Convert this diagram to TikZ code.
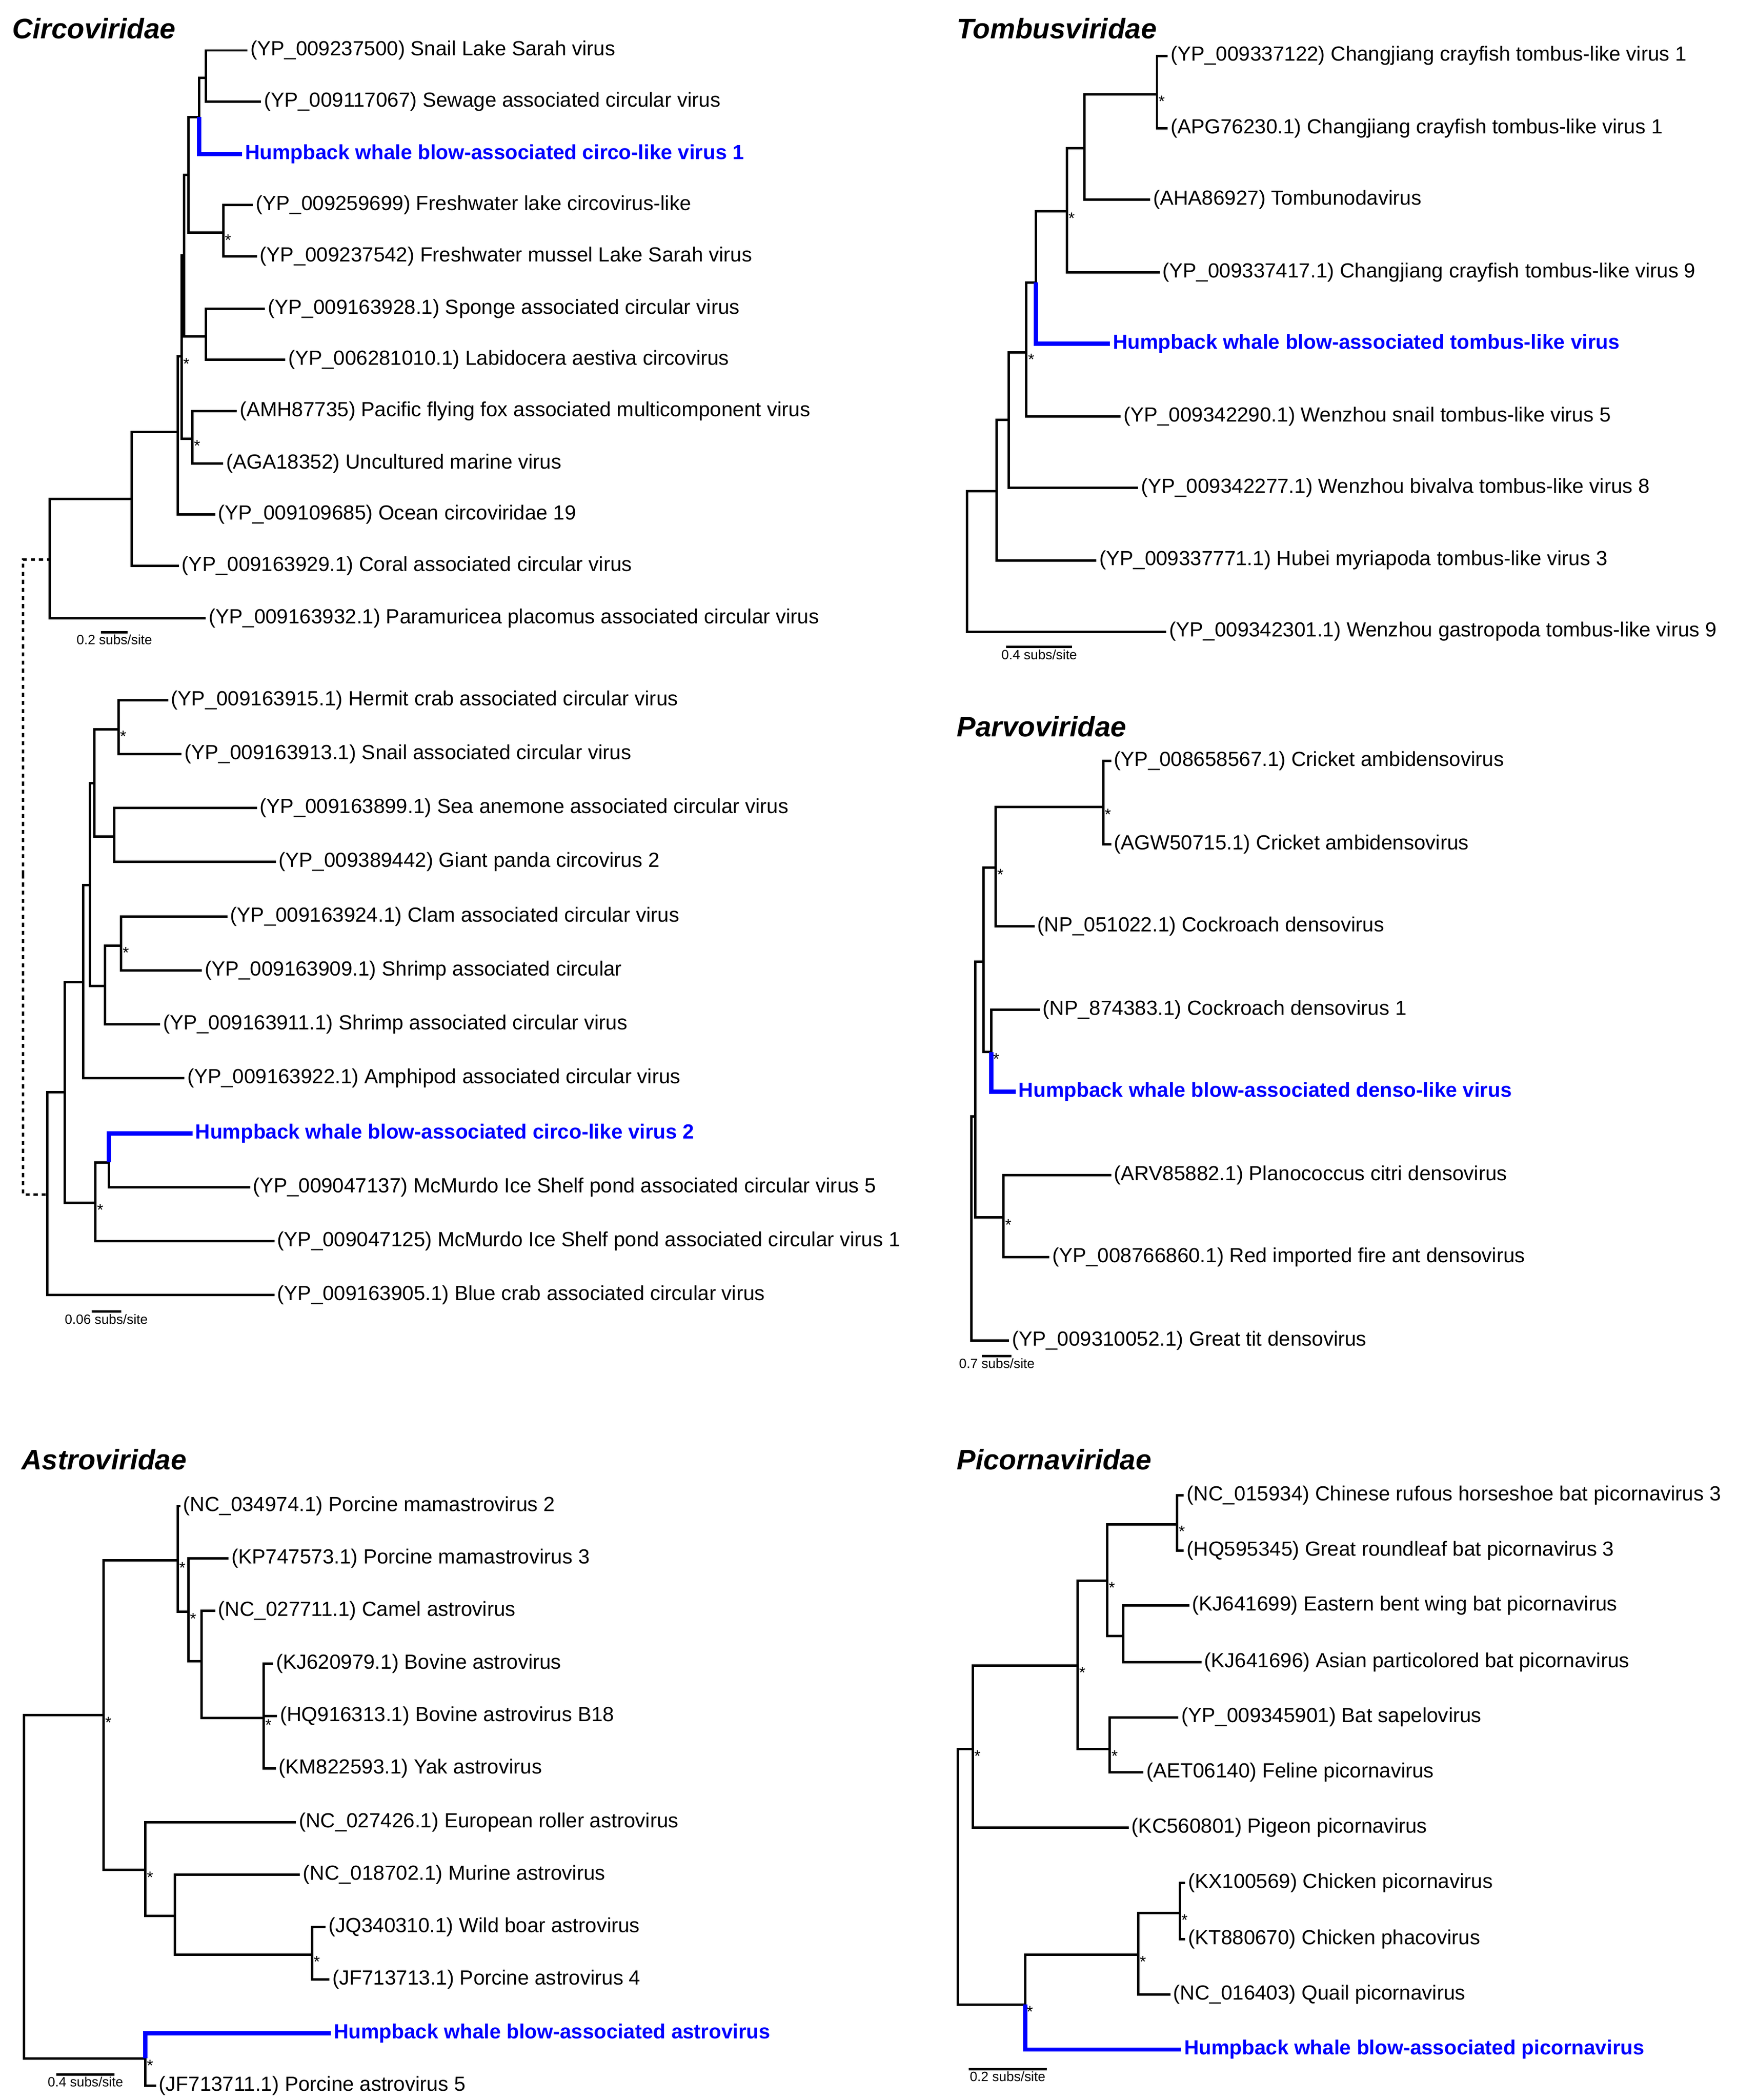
\documentclass[tikz,border=0pt]{standalone}
\usepackage{fontspec}
\setmainfont{Liberation Sans}
\newcommand\leaffont{\fontsize{15.2}{17}\selectfont}
\newcommand\famfont{\fontsize{21}{24}\selectfont}
\newcommand\barfont{\fontsize{10}{11}\selectfont}
\newcommand\starfont{\fontsize{12}{12}\selectfont}
\tikzset{
  branch/.style={line width=1.8pt},
  hwb/.style={line width=3.2pt, blue},
  leaf/.style={anchor=west, inner sep=2pt, font=\leaffont, yshift=1.5pt},
  hwbleaf/.style={leaf, text=blue, font=\leaffont\bfseries},
  famtitle/.style={anchor=west, inner sep=0pt, font=\famfont\bfseries\itshape},
  starmark/.style={anchor=north west, inner sep=1pt, font=\starfont},
  barlabel/.style={below, inner sep=1pt, font=\barfont},
}
\newcommand\starat[1]{\node[starmark] at (#1) {*};}
\begin{document}
\begin{tikzpicture}[x=1pt,y=-1pt]
\useasboundingbox (0,0) rectangle (1306,1561);

% Circoviridae (upper)
\node[famtitle] (tci) at (9,21) {Circoviridae};
\node[leaf] (ci1) at (184,39) {(YP\_009237500) Snail Lake Sarah virus};
\node[leaf] (ci2) at (194,77) {(YP\_009117067) Sewage associated circular virus};
\node[hwbleaf] (ci3) at (180,116) {Humpback whale blow-associated circo-like virus 1};
\node[leaf] (ci4) at (188,154) {(YP\_009259699) Freshwater lake circovirus-like};
\node[leaf] (ci5) at (191,192) {(YP\_009237542) Freshwater mussel Lake Sarah virus};
\node[leaf] (ci6) at (197,231) {(YP\_009163928.1) Sponge associated circular virus};
\node[leaf] (ci7) at (212,269) {(YP\_006281010.1) Labidocera aestiva circovirus};
\node[leaf] (ci8) at (176,307) {(AMH87735) Pacific flying fox associated multicomponent virus};
\node[leaf] (ci9) at (166,346) {(AGA18352) Uncultured marine virus};
\node[leaf] (ci10) at (160,384) {(YP\_009109685) Ocean circoviridae 19};
\node[leaf] (ci11) at (133,422) {(YP\_009163929.1) Coral associated circular virus};
\node[leaf] (ci12) at (153,461) {(YP\_009163932.1) Paramuricea placomus associated circular virus};
\coordinate (c1) at (153,58);
\coordinate (c2) at (148,87);
\coordinate (c3) at (166,173);
\coordinate (c4) at (140,130);
\coordinate (c5) at (153,250);
\coordinate (c6) at (137,190);
\coordinate (c7) at (143,326);
\coordinate (c8) at (135,265);
\coordinate (c9) at (132,321);
\coordinate (c10) at (98,371);
\coordinate (c11) at (37,416);
\foreach \p/\c in {c2/c1,c4/c2,c4/c3,c6/c4,c6/c5,c8/c6,c8/c7,c9/c8,c10/c9,c11/c10}
  \draw[branch] (\p) |- (\c);
\foreach \p/\c in {c1/ci1,c1/ci2,c3/ci4,c3/ci5,c5/ci6,c5/ci7,c7/ci8,c7/ci9,c9/ci10,c10/ci11,c11/ci12}
  \draw[branch] (\p) |- (\c.west);
\draw[hwb] (c2) |- (ci3.west);
\foreach \s in {c3,c7,c8} \starat{\s};
\coordinate (sb1a) at (75,470);
\coordinate (sb1b) at (95,470);
\draw[branch] (sb1a) -- (sb1b) node[barlabel, midway] {0.2 subs/site};

% Circoviridae (lower)
\node[leaf] (di1) at (125,522) {(YP\_009163915.1) Hermit crab associated circular virus};
\node[leaf] (di2) at (135,562) {(YP\_009163913.1) Snail associated circular virus};
\node[leaf] (di3) at (191,602) {(YP\_009163899.1) Sea anemone associated circular virus};
\node[leaf] (di4) at (205,642) {(YP\_009389442) Giant panda circovirus 2};
\node[leaf] (di5) at (169,683) {(YP\_009163924.1) Clam associated circular virus};
\node[leaf] (di6) at (150,723) {(YP\_009163909.1) Shrimp associated circular};
\node[leaf] (di7) at (119,763) {(YP\_009163911.1) Shrimp associated circular virus};
\node[leaf] (di8) at (137,803) {(YP\_009163922.1) Amphipod associated circular virus};
\node[hwbleaf] (di9) at (143,844) {Humpback whale blow-associated circo-like virus 2};
\node[leaf] (di10) at (186,884) {(YP\_009047137) McMurdo Ice Shelf pond associated circular virus 5};
\node[leaf] (di11) at (204,924) {(YP\_009047125) McMurdo Ice Shelf pond associated circular virus 1};
\node[leaf] (di12) at (204,964) {(YP\_009163905.1) Blue crab associated circular virus};
\coordinate (d1) at (88,542);
\coordinate (d2) at (85,622);
\coordinate (d3) at (70,582);
\coordinate (d4) at (90,703);
\coordinate (d5) at (78,733);
\coordinate (d6) at (67,658);
\coordinate (d7) at (62,730);
\coordinate (d8) at (81,864);
\coordinate (d9) at (71,894);
\coordinate (d10) at (48,812);
\coordinate (d11) at (35,888);
\foreach \p/\c in {d3/d1,d3/d2,d5/d4,d6/d3,d6/d5,d7/d6,d9/d8,d10/d7,d10/d9,d11/d10}
  \draw[branch] (\p) |- (\c);
\foreach \p/\c in {d1/di1,d1/di2,d2/di3,d2/di4,d4/di5,d4/di6,d5/di7,d7/di8,d8/di10,d9/di11,d11/di12}
  \draw[branch] (\p) |- (\c.west);
\draw[hwb] (d8) |- (di9.west);
\foreach \s in {d1,d4,d9} \starat{\s};
\coordinate (sb2a) at (68,975);
\coordinate (sb2b) at (90,975);
\draw[branch] (sb2a) -- (sb2b) node[barlabel, midway] {0.06 subs/site};
\coordinate (cr) at (17,650);
\draw[branch, dashed] (cr) |- (c11);
\draw[branch, dashed] (cr) |- (d11);

% Tombusviridae
\node[famtitle] (tto) at (711,21) {Tombusviridae};
\node[leaf] (to1) at (868,43) {(YP\_009337122) Changjiang crayfish tombus-like virus 1};
\node[leaf] (to2) at (868,97) {(APG76230.1) Changjiang crayfish tombus-like virus 1};
\node[leaf] (to3) at (855,150) {(AHA86927) Tombunodavirus};
\node[leaf] (to4) at (862,204) {(YP\_009337417.1) Changjiang crayfish tombus-like virus 9};
\node[hwbleaf] (to5) at (825,257) {Humpback whale blow-associated tombus-like virus};
\node[leaf] (to6) at (833,311) {(YP\_009342290.1) Wenzhou snail tombus-like virus 5};
\node[leaf] (to7) at (846,364) {(YP\_009342277.1) Wenzhou bivalva tombus-like virus 8};
\node[leaf] (to8) at (815,418) {(YP\_009337771.1) Hubei myriapoda tombus-like virus 3};
\node[leaf] (to9) at (867,471) {(YP\_009342301.1) Wenzhou gastropoda tombus-like virus 9};
\coordinate (t1) at (860,70);
\coordinate (t2) at (806,110);
\coordinate (t3) at (793,157);
\coordinate (t4) at (770,210);
\coordinate (t5) at (763,262);
\coordinate (t6) at (750,312);
\coordinate (t7) at (741,365);
\coordinate (t8) at (719,418);
\foreach \p/\c in {t2/t1,t3/t2,t4/t3,t5/t4,t6/t5,t7/t6,t8/t7}
  \draw[branch] (\p) |- (\c);
\foreach \p/\c in {t1/to1,t1/to2,t2/to3,t3/to4,t5/to6,t6/to7,t7/to8,t8/to9}
  \draw[branch] (\p) |- (\c.west);
\draw[hwb] (t4) |- (to5.west);
\foreach \s in {t1,t3,t5} \starat{\s};
\coordinate (sb3a) at (748,481);
\coordinate (sb3b) at (797,481);
\draw[branch] (sb3a) -- (sb3b) node[barlabel, midway] {0.4 subs/site};

% Parvoviridae
\node[famtitle] (tpa) at (711,540) {Parvoviridae};
\node[leaf] (pa1) at (826,567) {(YP\_008658567.1) Cricket ambidensovirus};
\node[leaf] (pa2) at (826,629) {(AGW50715.1) Cricket ambidensovirus};
\node[leaf] (pa3) at (769,690) {(NP\_051022.1) Cockroach densovirus};
\node[leaf] (pa4) at (773,752) {(NP\_874383.1) Cockroach densovirus 1};
\node[hwbleaf] (pa5) at (755,813) {Humpback whale blow-associated denso-like virus};
\node[leaf] (pa6) at (826,875) {(ARV85882.1) Planococcus citri densovirus};
\node[leaf] (pa7) at (780,936) {(YP\_008766860.1) Red imported fire ant densovirus};
\node[leaf] (pa8) at (750,998) {(YP\_009310052.1) Great tit densovirus};
\coordinate (p1) at (820,600);
\coordinate (p2) at (740,645);
\coordinate (p3) at (737,782);
\coordinate (p4) at (731,715);
\coordinate (p5) at (746,905);
\coordinate (p6) at (725,830);
\coordinate (p7) at (722,915);
\foreach \p/\c in {p2/p1,p4/p2,p4/p3,p6/p4,p6/p5,p7/p6}
  \draw[branch] (\p) |- (\c);
\foreach \p/\c in {p1/pa1,p1/pa2,p2/pa3,p3/pa4,p5/pa6,p5/pa7,p7/pa8}
  \draw[branch] (\p) |- (\c.west);
\draw[hwb] (p3) |- (pa5.west);
\foreach \s in {p1,p2,p3,p5} \starat{\s};
\coordinate (sb4a) at (730,1008);
\coordinate (sb4b) at (752,1008);
\draw[branch] (sb4a) -- (sb4b) node[barlabel, midway] {0.7 subs/site};

% Astroviridae
\node[famtitle] (tas) at (16,1085) {Astroviridae};
\node[leaf] (as1) at (134,1121) {(NC\_034974.1) Porcine mamastrovirus 2};
\node[leaf] (as2) at (170,1160) {(KP747573.1) Porcine mamastrovirus 3};
\node[leaf] (as3) at (160,1199) {(NC\_027711.1) Camel astrovirus};
\node[leaf] (as4) at (203,1238) {(KJ620979.1) Bovine astrovirus};
\node[leaf] (as5) at (206,1277) {(HQ916313.1) Bovine astrovirus B18};
\node[leaf] (as6) at (205,1316) {(KM822593.1) Yak astrovirus};
\node[leaf] (as7) at (220,1356) {(NC\_027426.1) European roller astrovirus};
\node[leaf] (as8) at (223,1395) {(NC\_018702.1) Murine astrovirus};
\node[leaf] (as9) at (242,1434) {(JQ340310.1) Wild boar astrovirus};
\node[leaf] (as10) at (245,1473) {(JF713713.1) Porcine astrovirus 4};
\node[hwbleaf] (as11) at (246,1513) {Humpback whale blow-associated astrovirus};
\node[leaf] (as12) at (116,1552) {(JF713711.1) Porcine astrovirus 5};
\coordinate (a4) at (196,1277);
\coordinate (a5) at (150,1235);
\coordinate (a6) at (140,1198);
\coordinate (a7) at (132,1160);
\coordinate (a8) at (232,1453);
\coordinate (a9) at (130,1424);
\coordinate (a10) at (108,1390);
\coordinate (a11) at (77,1275);
\coordinate (a12) at (108,1530);
\coordinate (a13) at (18,1405);
\foreach \p/\c in {a5/a4,a6/a5,a7/a6,a9/a8,a10/a9,a11/a7,a11/a10,a13/a11,a13/a12}
  \draw[branch] (\p) |- (\c);
\foreach \p/\c in {a4/as4,a4/as5,a4/as6,a5/as3,a6/as2,a7/as1,a8/as9,a8/as10,a9/as8,a10/as7,a12/as12}
  \draw[branch] (\p) |- (\c.west);
\draw[hwb] (a12) |- (as11.west);
\foreach \s in {a4,a6,a7,a8,a10,a11,a12} \starat{\s};
\coordinate (sb5a) at (42,1542);
\coordinate (sb5b) at (85,1542);
\draw[branch] (sb5a) -- (sb5b) node[barlabel, midway] {0.4 subs/site};

% Picornaviridae
\node[famtitle] (tpi) at (711,1085) {Picornaviridae};
\node[leaf] (pi1) at (880,1113) {(NC\_015934) Chinese rufous horseshoe bat picornavirus 3};
\node[leaf] (pi2) at (880,1154) {(HQ595345) Great roundleaf bat picornavirus 3};
\node[leaf] (pi3) at (884,1195) {(KJ641699) Eastern bent wing bat picornavirus};
\node[leaf] (pi4) at (893,1237) {(KJ641696) Asian particolored bat picornavirus};
\node[leaf] (pi5) at (876,1278) {(YP\_009345901) Bat sapelovirus};
\node[leaf] (pi6) at (850,1319) {(AET06140) Feline picornavirus};
\node[leaf] (pi7) at (839,1360) {(KC560801) Pigeon picornavirus};
\node[leaf] (pi8) at (881,1401) {(KX100569) Chicken picornavirus};
\node[leaf] (pi9) at (881,1443) {(KT880670) Chicken phacovirus};
\node[leaf] (pi10) at (870,1484) {(NC\_016403) Quail picornavirus};
\node[hwbleaf] (pi11) at (878,1525) {Humpback whale blow-associated picornavirus};
\coordinate (q1) at (875,1133);
\coordinate (q2) at (835,1216);
\coordinate (q3) at (823,1175);
\coordinate (q4) at (825,1300);
\coordinate (q5) at (801,1238);
\coordinate (q6) at (723,1300);
\coordinate (q7) at (877,1422);
\coordinate (q8) at (846,1453);
\coordinate (q9) at (762,1490);
\coordinate (q10) at (712,1395);
\foreach \p/\c in {q3/q1,q3/q2,q5/q3,q5/q4,q6/q5,q8/q7,q9/q8,q10/q6,q10/q9}
  \draw[branch] (\p) |- (\c);
\foreach \p/\c in {q1/pi1,q1/pi2,q2/pi3,q2/pi4,q4/pi5,q4/pi6,q6/pi7,q7/pi8,q7/pi9,q8/pi10}
  \draw[branch] (\p) |- (\c.west);
\draw[hwb] (q9) |- (pi11.west);
\foreach \s in {q1,q3,q4,q5,q6,q7,q8,q9} \starat{\s};
\coordinate (sb6a) at (720,1538);
\coordinate (sb6b) at (778,1538);
\draw[branch] (sb6a) -- (sb6b) node[barlabel, midway] {0.2 subs/site};
\end{tikzpicture}
\end{document}
